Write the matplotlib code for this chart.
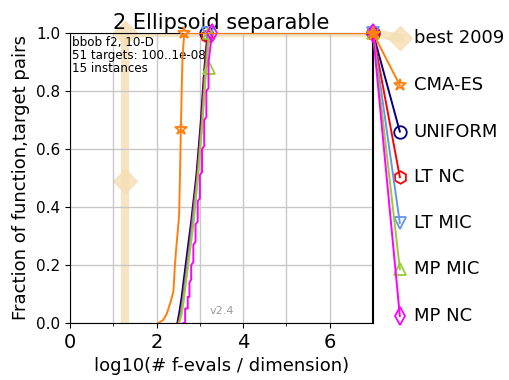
import numpy as np
import matplotlib
matplotlib.use('Agg')
import matplotlib.pyplot as plt

# ECDF data: log10(evals/dim) vs fraction of (function, target) pairs
best_x = [1.28, 1.28, 7.0]
best_y = [0.0, 1.0, 1.0]
best_mark_x = [1.28, 1.28]
best_mark_y = [0.49, 1.0]

cma_x = [2.04, 2.15, 2.23, 2.32, 2.39, 2.42, 2.45, 2.48, 2.52, 2.54, 2.56, 2.58, 2.6, 2.64, 7.0]
cma_y = [0.0, 0.01, 0.03, 0.07, 0.11, 0.19, 0.25, 0.30, 0.37, 0.50, 0.66, 0.80, 0.92, 1.0, 1.0]
cma_mark_x = [2.56, 2.64]
cma_mark_y = [0.67, 1.0]

uni_x = [2.48, 2.53, 2.58, 2.63, 2.68, 2.74, 2.8, 2.86, 2.92, 2.97, 3.02, 3.06, 3.1, 3.14, 3.18, 7.0]
uni_y = [0.0, 0.04, 0.09, 0.15, 0.21, 0.28, 0.35, 0.43, 0.51, 0.60, 0.69, 0.78, 0.87, 0.94, 1.0, 1.0]

ltnc_x = [2.5, 2.55, 2.6, 2.65, 2.7, 2.76, 2.82, 2.87, 2.93, 2.98, 3.03, 3.07, 3.11, 3.15, 3.19, 7.0]
ltnc_y = [0.0, 0.03, 0.08, 0.14, 0.2, 0.27, 0.35, 0.42, 0.5, 0.59, 0.68, 0.77, 0.86, 0.94, 1.0, 1.0]

ltmic_x = [2.52, 2.57, 2.62, 2.67, 2.72, 2.78, 2.84, 2.89, 2.95, 3.0, 3.05, 3.09, 3.13, 3.17, 3.21, 7.0]
ltmic_y = [0.0, 0.04, 0.09, 0.15, 0.21, 0.28, 0.36, 0.43, 0.51, 0.6, 0.69, 0.78, 0.87, 0.94, 1.0, 1.0]

mpmic_x = [2.52, 2.58, 2.63, 2.68, 2.74, 2.8, 2.86, 2.91, 2.96, 3.01, 3.06, 3.1, 3.14, 3.18, 3.22, 7.0]
mpmic_y = [0.0, 0.03, 0.08, 0.14, 0.21, 0.28, 0.35, 0.43, 0.51, 0.6, 0.69, 0.78, 0.86, 0.93, 1.0, 1.0]

# MP NC muestra escalones visibles
mpnc_x = [2.62, 2.66, 2.66, 2.72, 2.72, 2.76, 2.76, 2.8, 2.8, 2.85, 2.85, 2.9, 2.9, 2.95, 2.95,
          3.0, 3.0, 3.05, 3.05, 3.1, 3.1, 3.15, 3.15, 3.2, 3.2, 3.25, 3.28, 7.0]
mpnc_y = [0.0, 0.0, 0.05, 0.05, 0.09, 0.09, 0.14, 0.15, 0.2, 0.21, 0.27, 0.28, 0.34, 0.35, 0.42,
          0.43, 0.51, 0.52, 0.6, 0.61, 0.7, 0.71, 0.8, 0.81, 0.9, 0.96, 1.0, 1.0]

nombres = ['best 2009', 'CMA-ES', 'UNIFORM', 'LT NC', 'LT MIC', 'MP MIC', 'MP NC']
colores = ['wheat', '#ff7f0e', 'navy', 'red', 'cornflowerblue', 'yellowgreen', 'magenta']
marcadores = ['D', '*', 'o', 'h', 'v', '^', 'd']
y_etiqueta = [0.983, 0.82, 0.66, 0.503, 0.345, 0.186, 0.024]

fig = plt.figure(figsize=(5.1, 3.8), dpi=100)
ax = fig.add_axes([70/510, 57/380, 303/510, 290/380])

curvas = [(best_x, best_y), (cma_x, cma_y), (uni_x, uni_y), (ltnc_x, ltnc_y),
          (ltmic_x, ltmic_y), (mpmic_x, mpmic_y), (mpnc_x, mpnc_y)]

# Marcadores intermedios en cada curva
marcas = {
    0: (best_mark_x, best_mark_y),
    1: (cma_mark_x, cma_mark_y),
    2: ([3.15, 7.0], [1.0, 1.0]),
    3: ([3.17, 7.0], [0.99, 1.0]),
    4: ([3.19, 7.0], [1.0, 1.0]),
    5: ([3.2, 3.22, 7.0], [0.88, 1.0, 1.0]),
    6: ([3.27, 7.0], [1.0, 1.0]),
}

x_etiqueta = 7.62
orden_z = [1, 9, 3, 4, 5, 6, 7]
for i, (xs, ys) in enumerate(curvas):
    c = colores[i]
    z = orden_z[i]
    if i == 0:
        kw = dict(color=c, lw=6, alpha=0.8, zorder=z)
        mkw = dict(marker=marcadores[i], ms=12, mfc=c, mec=c, alpha=0.8)
    else:
        kw = dict(color=c, lw=1.4, zorder=z)
        mkw = dict(marker=marcadores[i], ms=9, mfc='none', mec=c, mew=1.3)
    ax.plot(xs, ys, **kw)
    mx, my = marcas[i]
    ax.plot(mx, my, ls='none', clip_on=False, **mkw, zorder=z)
    # tramo final hasta la etiqueta
    ax.plot([7.0, x_etiqueta], [1.0, y_etiqueta[i]], clip_on=False, **kw)
    ax.plot([x_etiqueta], [y_etiqueta[i]], ls='none', clip_on=False, **mkw, zorder=z)
    ax.text(x_etiqueta + 0.32, y_etiqueta[i], nombres[i], fontsize=13,
            va='center', ha='left', clip_on=False)

ax.plot([7.0], [1.0], ls='none', marker='*', ms=10, mfc='#ff7f0e', mec='#ff7f0e',
        clip_on=False, zorder=10)
ax.axvline(7.0, color='k', lw=1.5, zorder=6)

ax.set_xlim(0, 7)
ax.set_ylim(0, 1)
ax.set_xticks([0, 2, 4, 6])
ax.set_xticks([1, 3, 5], minor=True)
ax.set_yticks([0.0, 0.2, 0.4, 0.6, 0.8, 1.0])
ax.tick_params(axis='x', labelsize=14)
ax.tick_params(axis='y', labelsize=11)
ax.grid(True, which='both', color='#c8c8c8', lw=1.0)

ax.set_xlabel('log10(# f-evals / dimension)', fontsize=13)
ax.set_ylabel('Fraction of function,target pairs', fontsize=13)
ax.set_title('2 Ellipsoid separable', fontsize=15, pad=3)

ax.text(0.04, 0.99, 'bbob f2, 10-D\n51 targets: 100..1e-08\n15 instances',
        fontsize=8.6, va='top', ha='left', linespacing=1.0)
ax.text(3.23, 0.03, 'v2.4', fontsize=8, color='gray', alpha=0.8)

fig.savefig('out.png', dpi=100)
